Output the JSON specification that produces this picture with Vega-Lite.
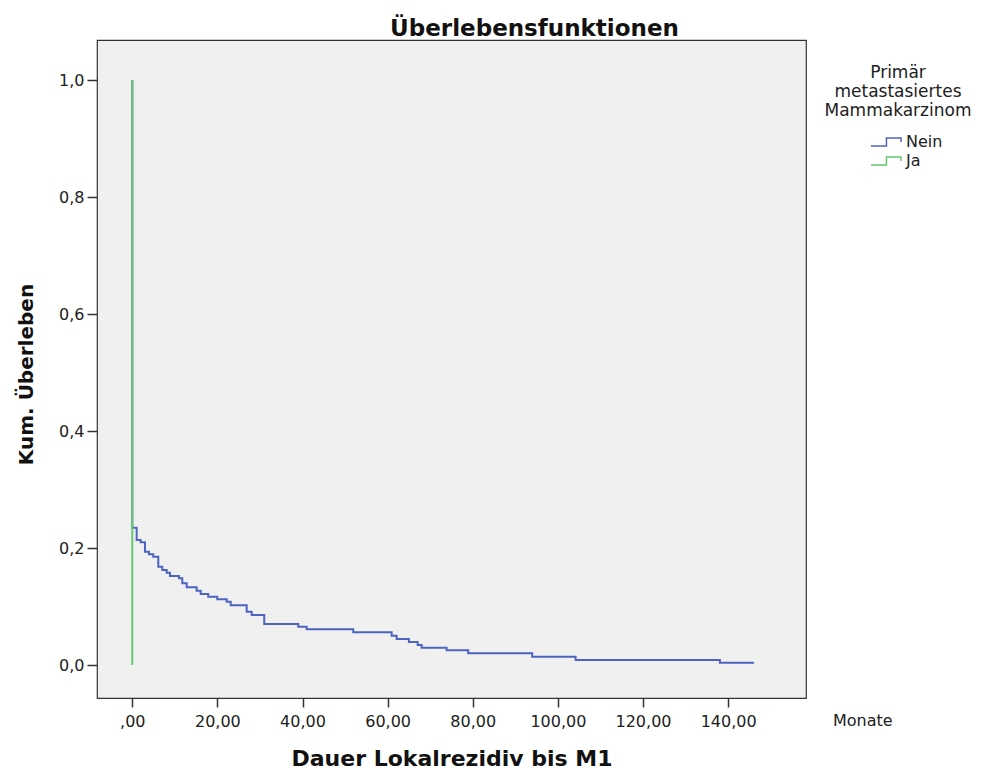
{
  "$schema": "https://vega.github.io/schema/vega-lite/v6.json",
  "autosize": {"type": "none"},
  "padding": {"left": 97, "top": 40, "right": 190, "bottom": 73},
  "width": 709,
  "height": 658,
  "background": "#ffffff",
  "title": {
    "text": "Überlebensfunktionen",
    "font": "DejaVu Sans",
    "fontSize": 23,
    "fontWeight": "bold",
    "color": "#111111",
    "anchor": "middle",
    "frame": "group",
    "dx": 83,
    "offset": -1
  },
  "datasets": {
    "km": [
      {"t": 0, "s": 1.0, "grp": "Nein"},
      {"t": 0, "s": 0.2347, "grp": "Nein"},
      {"t": 1.03, "s": 0.2137, "grp": "Nein"},
      {"t": 1.97, "s": 0.2097, "grp": "Nein"},
      {"t": 2.98, "s": 0.1937, "grp": "Nein"},
      {"t": 3.92, "s": 0.1892, "grp": "Nein"},
      {"t": 4.93, "s": 0.1851, "grp": "Nein"},
      {"t": 6.11, "s": 0.168, "grp": "Nein"},
      {"t": 7.05, "s": 0.1624, "grp": "Nein"},
      {"t": 8.08, "s": 0.1578, "grp": "Nein"},
      {"t": 8.86, "s": 0.1521, "grp": "Nein"},
      {"t": 10.97, "s": 0.1482, "grp": "Nein"},
      {"t": 11.75, "s": 0.1397, "grp": "Nein"},
      {"t": 12.78, "s": 0.1328, "grp": "Nein"},
      {"t": 15.13, "s": 0.127, "grp": "Nein"},
      {"t": 16.07, "s": 0.1214, "grp": "Nein"},
      {"t": 17.85, "s": 0.1168, "grp": "Nein"},
      {"t": 19.97, "s": 0.1123, "grp": "Nein"},
      {"t": 22.18, "s": 0.1082, "grp": "Nein"},
      {"t": 23.12, "s": 0.1021, "grp": "Nein"},
      {"t": 26.88, "s": 0.0911, "grp": "Nein"},
      {"t": 28.05, "s": 0.0855, "grp": "Nein"},
      {"t": 31.01, "s": 0.0701, "grp": "Nein"},
      {"t": 39.0, "s": 0.0655, "grp": "Nein"},
      {"t": 40.97, "s": 0.061, "grp": "Nein"},
      {"t": 51.92, "s": 0.0559, "grp": "Nein"},
      {"t": 60.94, "s": 0.0501, "grp": "Nein"},
      {"t": 62.11, "s": 0.0444, "grp": "Nein"},
      {"t": 65.0, "s": 0.0393, "grp": "Nein"},
      {"t": 67.05, "s": 0.0342, "grp": "Nein"},
      {"t": 67.99, "s": 0.0296, "grp": "Nein"},
      {"t": 73.86, "s": 0.0251, "grp": "Nein"},
      {"t": 78.93, "s": 0.02, "grp": "Nein"},
      {"t": 93.97, "s": 0.0142, "grp": "Nein"},
      {"t": 104.17, "s": 0.0085, "grp": "Nein"},
      {"t": 138.07, "s": 0.0039, "grp": "Nein"},
      {"t": 146.1, "s": 0.0039, "grp": "Nein"},
      {"t": 0, "s": 1.0, "grp": "Ja"},
      {"t": 0, "s": 0.0, "grp": "Ja"}
    ],
    "unit": [{"label": "Monate"}]
  },
  "layer": [
    {
      "data": {"name": "km"},
      "transform": [{"filter": "datum.grp === 'Nein'"}],
      "mark": {"type": "line", "interpolate": "step-after", "strokeWidth": 2, "clip": true},
      "encoding": {
        "x": {"field": "t", "type": "quantitative"},
        "y": {"field": "s", "type": "quantitative"},
        "order": {"value": null},
        "color": {"field": "grp", "type": "nominal"}
      }
    },
    {
      "data": {"name": "km"},
      "transform": [{"filter": "datum.grp === 'Ja'"}],
      "mark": {"type": "line", "interpolate": "step-after", "strokeWidth": 2, "clip": true},
      "encoding": {
        "x": {"field": "t", "type": "quantitative"},
        "y": {"field": "s", "type": "quantitative"},
        "order": {"value": null},
        "color": {"field": "grp", "type": "nominal"}
      }
    },
    {
      "data": {"name": "unit"},
      "mark": {"type": "text", "align": "left", "baseline": "alphabetic", "dx": 27, "dy": 28, "font": "DejaVu Sans", "fontSize": 16, "color": "#212121", "clip": false},
      "encoding": {
        "text": {"field": "label"},
        "x": {"datum": 158.3, "type": "quantitative"},
        "y": {"datum": -0.0564, "type": "quantitative"}
      }
    }
  ],
  "resolve": {"scale": {"color": "shared"}},
  "encoding": {
    "x": {
      "type": "quantitative",
      "scale": {"domain": [-8.29, 158.3], "nice": false, "zero": false},
      "axis": {
        "title": "Dauer Lokalrezidiv bis M1",
        "values": [0, 20, 40, 60, 80, 100, 120, 140],
        "labelExpr": "datum.value == 0 ? ',00' : replace(format(datum.value, '.2f'), '.', ',')",
        "titleY": 67,
        "titleFontSize": 22,
        "titleBaseline": "alphabetic"
      }
    },
    "y": {
      "type": "quantitative",
      "scale": {"domain": [-0.0564, 1.0684], "nice": false, "zero": false},
      "axis": {
        "title": "Kum. Überleben",
        "values": [0, 0.2, 0.4, 0.6, 0.8, 1.0],
        "labelExpr": "replace(format(datum.value, '.1f'), '.', ',')",
        "titleX": -65,
        "titleY": 334,
        "titleBaseline": "alphabetic"
      }
    },
    "color": {
      "type": "nominal",
      "scale": {"domain": ["Nein", "Ja"], "range": ["#4d63c0", "#64c86e"]},
      "legend": {
        "orient": "none",
        "legendX": 728,
        "legendY": 25,
        "title": ["Primär", "metastasiertes", "Mammakarzinom"],
        "symbolOffset": 22,
        "labelOffset": 10,
        "symbolFillColor": "transparent",
        "encode": {"symbols": {"update": {"fill": {"value": "transparent"}, "strokeWidth": {"value": 1.5}}}}
      }
    }
  },
  "config": {
    "view": {"fill": "#f0f0f0", "stroke": "#333333", "strokeWidth": 1.2},
    "axis": {
      "grid": false,
      "domain": false,
      "ticks": true,
      "tickColor": "#333333",
      "tickWidth": 1.5,
      "labelFont": "DejaVu Sans",
      "labelFontSize": 16,
      "labelColor": "#212121",
      "labelFlush": false,
      "labelOverlap": false,
      "titleFont": "DejaVu Sans",
      "titleFontSize": 20,
      "titleFontWeight": "bold",
      "titleColor": "#111111"
    },
    "axisX": {"tickSize": 9, "labelPadding": 6},
    "axisY": {"tickSize": 10, "labelPadding": 3},
    "legend": {
      "padding": 0,
      "titleFont": "DejaVu Sans",
      "titleFontSize": 17,
      "titleFontWeight": "normal",
      "titleLineHeight": 19,
      "titleAnchor": "middle",
      "titleAlign": "center",
      "titlePadding": 12,
      "titleColor": "#212121",
      "labelFont": "DejaVu Sans",
      "labelFontSize": 16,
      "labelColor": "#212121",
      "symbolType": "M-1.67,0.45H0.05V-0.45H1.67V0",
      "symbolSize": 324,
      "symbolStrokeWidth": 1.5,
      "rowPadding": 1
    }
  }
}
